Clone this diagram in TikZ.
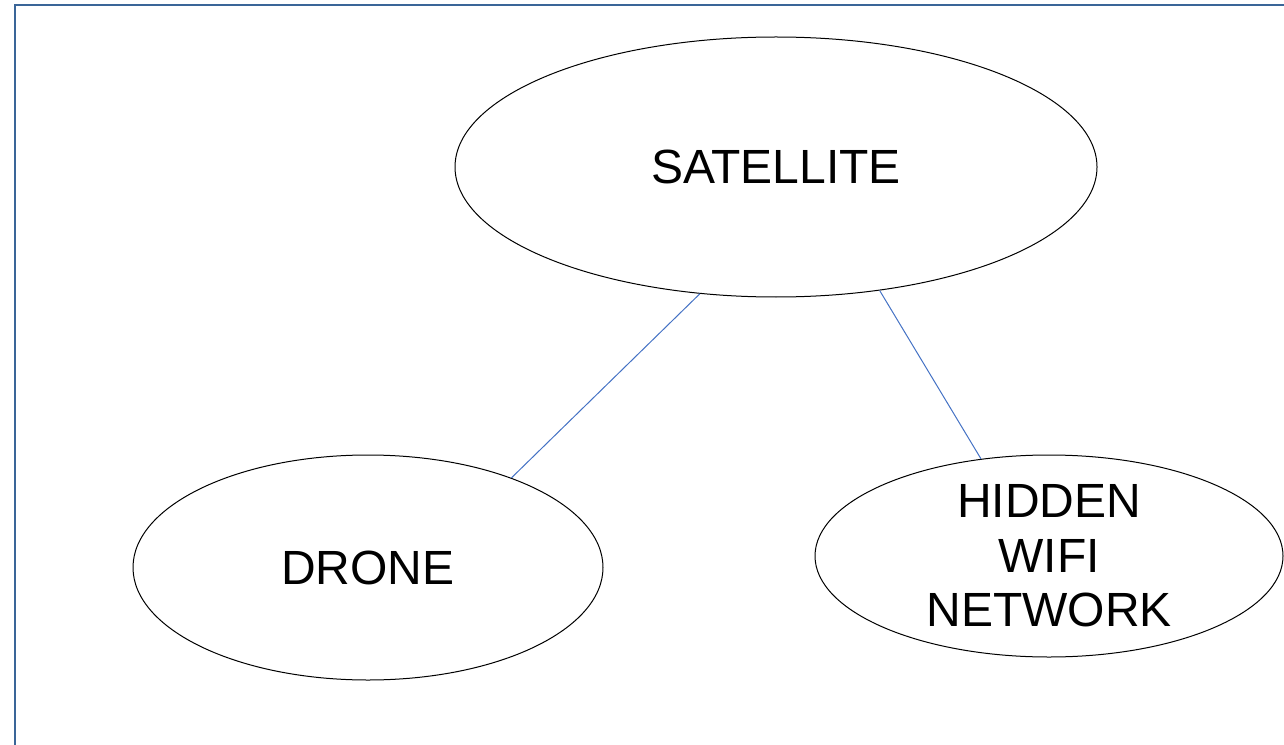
\documentclass[tikz,border=0pt]{standalone}
\usepackage{fontspec}
\setmainfont{Liberation Sans}
\usetikzlibrary{shapes.geometric}
\definecolor{framecol}{HTML}{3A6598}
\definecolor{linkcol}{HTML}{4472C4}
\begin{document}
\begin{tikzpicture}[x=0.75pt,y=-0.75pt]
        \tikzset{bubble/.style={ellipse,draw=black,line width=0.75pt,inner sep=0pt,align=center,font=\fontsize{36}{41}\selectfont}}
        \tikzset{link/.style={draw=linkcol,line width=0.75pt}}
        \useasboundingbox (0,0) rectangle (1284,745);
        \draw [framecol,line width=1.1pt] (1284,5) -- (15,5) -- (15,745);
        \node [bubble,minimum width=481.5pt,minimum height=195pt] (sat) at (776,167) {SATELLITE};
        \node [bubble,minimum width=352.5pt,minimum height=168.75pt] (drone) at (368,567.5) {DRONE};
        \node [bubble,minimum width=351pt,minimum height=151.5pt] (wifi) at (1049,556) {HIDDEN\\WIFI\\NETWORK};
        \draw [link] (sat.239) -- (drone.32.5);
        \draw [link] (sat.310) -- (wifi.125);
\end{tikzpicture}
\end{document}
